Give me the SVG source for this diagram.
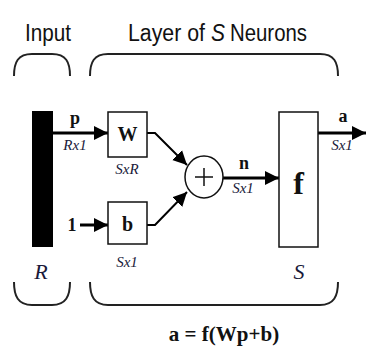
<svg xmlns="http://www.w3.org/2000/svg" width="366" height="347" viewBox="0 0 366 347">
<defs>
<marker id="ah" viewBox="0 0 10 10" refX="10" refY="5" markerWidth="14" markerHeight="15" markerUnits="userSpaceOnUse" orient="auto">
<path d="M0,0 L10,5 L0,10 z" fill="#000"/>
</marker>
</defs>
<style>
.hdr{font-family:"Liberation Sans",Arial,sans-serif;font-size:23px;fill:#111;}
.br{fill:none;stroke:#222;stroke-width:2;}
.box{fill:#fff;stroke:#111;stroke-width:1.5;}
.bs{font-family:"Liberation Serif","Times New Roman",serif;font-weight:bold;fill:#111;}
.sm{font-family:"Liberation Serif","Times New Roman",serif;font-style:italic;font-size:15px;fill:#1a1a3a;}
.it{font-family:"Liberation Serif","Times New Roman",serif;font-style:italic;font-size:22px;fill:#1a1a3a;}
.ln{fill:none;stroke:#000;stroke-width:3;}
</style>
<rect width="366" height="347" fill="#fff"/>
<g id="headers">
<text class="hdr" x="25" y="41" textLength="46" lengthAdjust="spacingAndGlyphs">Input</text>
<text class="hdr" x="128" y="41" textLength="77" lengthAdjust="spacingAndGlyphs">Layer of</text>
<text class="hdr" x="211" y="41" font-style="italic" fill="#1a1a4a" textLength="14" lengthAdjust="spacingAndGlyphs">S</text>
<text class="hdr" x="230" y="41" textLength="77" lengthAdjust="spacingAndGlyphs">Neurons</text>
</g>
<g id="brackets">
<path class="br" d="M14,76 C14,62 18,54 32,54 L52,54 C66,54 70,62 70,76"/>
<path class="br" d="M90,76 C90,62 94,54 108,54 L320,54 C334,54 338,62 338,76"/>
<path class="br" d="M14,282 C14,296 18,305 32,305 L52,305 C66,305 70,296 70,282"/>
<path class="br" d="M90,282 C90,296 94,305 108,305 L320,305 C334,305 338,296 338,282"/>
</g>
<g id="input">
<rect x="32" y="111" width="21" height="136" fill="#000"/>
<text class="it" x="41" y="279" text-anchor="middle">R</text>
</g>
<g id="connectors">
<line class="ln" x1="53" y1="133" x2="108" y2="133" marker-end="url(#ah)"/>
<line class="ln" x1="80" y1="225" x2="108" y2="225" marker-end="url(#ah)"/>
<polyline fill="none" stroke="#000" stroke-width="2" points="147,133 155,133 187,165" marker-end="url(#ah)"/>
<polyline fill="none" stroke="#000" stroke-width="2" points="147,225 155,225 187,192" marker-end="url(#ah)"/>
<line class="ln" x1="223" y1="178" x2="279" y2="178" marker-end="url(#ah)"/>
<line class="ln" x1="318" y1="133" x2="366" y2="133" marker-end="url(#ah)"/>
</g>
<g id="labels">
<text class="bs" x="75" y="124" font-size="18" text-anchor="middle">p</text>
<text class="sm" x="75" y="150" text-anchor="middle">Rx1</text>
<text class="bs" x="72" y="231" font-size="18" text-anchor="middle">1</text>
<text class="bs" x="244" y="169" font-size="18" text-anchor="middle">n</text>
<text class="sm" x="243" y="193" text-anchor="middle">Sx1</text>
<text class="bs" x="343" y="122" font-size="18" text-anchor="middle">a</text>
<text class="sm" x="342" y="150" text-anchor="middle">Sx1</text>
</g>
<g id="W">
<rect class="box" x="108" y="112" width="39" height="45"/>
<text class="bs" x="127.5" y="141" font-size="20" text-anchor="middle">W</text>
<text class="sm" x="127" y="174" text-anchor="middle">SxR</text>
</g>
<g id="b">
<rect class="box" x="108" y="202" width="39" height="42"/>
<text class="bs" x="127.5" y="231" font-size="20" text-anchor="middle">b</text>
<text class="sm" x="127" y="267" text-anchor="middle">Sx1</text>
</g>
<g id="sum">
<ellipse cx="204" cy="177" rx="19" ry="21" fill="#fff" stroke="#111" stroke-width="1.5"/>
<path d="M195,177 H213 M204,168 V186" stroke="#111" stroke-width="1.5"/>
</g>
<g id="f">
<rect class="box" x="279" y="112" width="39" height="135"/>
<text class="bs" x="298.5" y="194" font-size="32" text-anchor="middle">f</text>
<text class="it" x="299" y="279" text-anchor="middle">S</text>
</g>
<g id="formula">
<text class="bs" x="224" y="341" font-size="21" text-anchor="middle">a = f(Wp+b)</text>
</g>
</svg>
